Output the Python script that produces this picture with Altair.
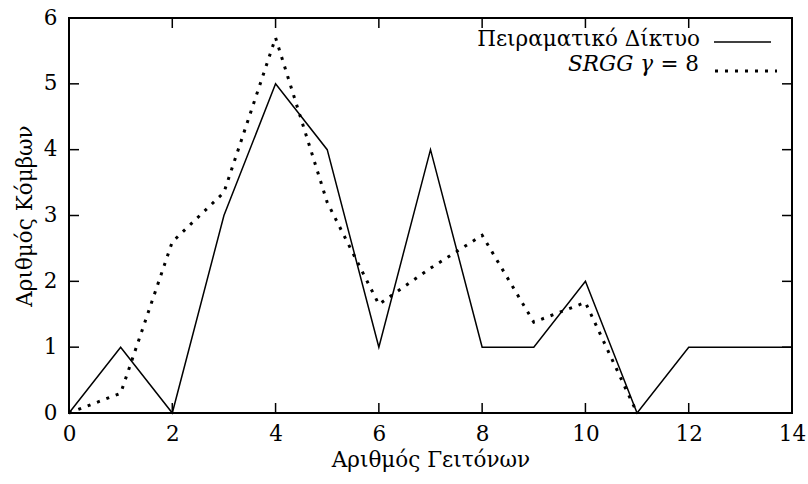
import altair as alt
import pandas as pd

# Data
x_exp = [0, 1, 2, 3, 4, 5, 6, 7, 8, 9, 10, 11, 12, 13, 14]
y_exp = [0, 1, 0, 3, 5, 4, 1, 4, 1, 1, 2, 0, 1, 1, 1]
x_srgg = [0, 1, 2, 3, 4, 5, 6, 7, 8, 9, 10, 11]
y_srgg = [0, 0.3, 2.6, 3.35, 5.7, 3.2, 1.65, 2.2, 2.7, 1.38, 1.68, 0]
x_ticks = [0, 2, 4, 6, 8, 10, 12, 14]
y_ticks = [0, 1, 2, 3, 4, 5, 6]
legend_labels = ["Πειραματικό Δίκτυο", "SRGG γ", "= 8"]
x_title = "Αριθμός Γειτόνων"
y_title = "Αριθμός Κόμβων"

FONT = "DejaVu Serif"
FS = 21.5
W, H = 723, 395

df_exp = pd.DataFrame({"x": x_exp, "y": y_exp})
df_srgg = pd.DataFrame({"x": x_srgg, "y": y_srgg})
df_xt = pd.DataFrame({"t": x_ticks})
df_yt = pd.DataFrame({"t": y_ticks})

xs = alt.Scale(domain=[0, 14], nice=False, zero=False)
ys = alt.Scale(domain=[0, 6], nice=False, zero=False)

xaxis = alt.Axis(values=x_ticks, format="d", title=x_title, grid=False, domain=False, ticks=False,
                 labelPadding=10, labelFontSize=FS, titleFontSize=FS, labelFont=FONT,
                 titleFont=FONT, labelColor="black", titleColor="black",
                 titleFontWeight="normal", titlePadding=5, labelFlush=False)
yaxis = alt.Axis(values=y_ticks, format="d", title=y_title, grid=False, domain=False, ticks=False,
                 labelPadding=12, labelFontSize=FS, titleFontSize=FS, labelFont=FONT,
                 titleFont=FONT, labelColor="black", titleColor="black",
                 titleFontWeight="normal", titlePadding=7, labelFlush=False)

exp_line = alt.Chart(df_exp).mark_line(color="black", strokeWidth=1.5).encode(
    x=alt.X("x:Q", scale=xs, axis=xaxis),
    y=alt.Y("y:Q", scale=ys, axis=yaxis),
)
srgg_line = alt.Chart(df_srgg).mark_line(
    color="black", strokeWidth=3, strokeDash=[3, 7], strokeCap="butt"
).encode(x=alt.X("x:Q", scale=xs), y=alt.Y("y:Q", scale=ys))

tick_style = dict(color="black", strokeWidth=1.5)
bt = alt.Chart(df_xt).mark_rule(**tick_style).encode(
    x=alt.X("t:Q", scale=xs), y=alt.value(H), y2=alt.value(H - 10))
tt = alt.Chart(df_xt).mark_rule(**tick_style).encode(
    x=alt.X("t:Q", scale=xs), y=alt.value(0), y2=alt.value(10))
lt = alt.Chart(df_yt).mark_rule(**tick_style).encode(
    y=alt.Y("t:Q", scale=ys), x=alt.value(0), x2=alt.value(10))
rt = alt.Chart(df_yt).mark_rule(**tick_style).encode(
    y=alt.Y("t:Q", scale=ys), x=alt.value(W), x2=alt.value(W - 10))

# Legend
leg1 = pd.DataFrame({"label": [legend_labels[0]]})
leg2a = pd.DataFrame({"label": [legend_labels[1]]})
leg2b = pd.DataFrame({"label": [legend_labels[2]]})
txt1 = alt.Chart(leg1).mark_text(align="right", baseline="alphabetic", font=FONT,
                                 fontSize=FS, color="black").encode(
    text="label:N", x=alt.value(631), y=alt.value(28))
txt2a = alt.Chart(leg2a).mark_text(align="right", baseline="alphabetic", font=FONT,
                                   fontSize=FS, fontStyle="italic", color="black").encode(
    text="label:N", x=alt.value(584), y=alt.value(53))
txt2b = alt.Chart(leg2b).mark_text(align="right", baseline="alphabetic", font=FONT,
                                   fontSize=FS, color="black").encode(
    text="label:N", x=alt.value(630), y=alt.value(53))
sample1 = alt.Chart(leg1).mark_rule(color="black", strokeWidth=1.5).encode(
    x=alt.value(645), x2=alt.value(702), y=alt.value(24))
sample2 = alt.Chart(leg2a).mark_rule(color="black", strokeWidth=3, strokeDash=[3, 7],
                                     strokeCap="butt").encode(
    x=alt.value(646), x2=alt.value(708), y=alt.value(53))

chart = alt.layer(
    exp_line, srgg_line, bt, tt, lt, rt, txt1, txt2a, txt2b, sample1, sample2
).properties(
    width=W, height=H,
    autosize=alt.AutoSizeParams(type="none"),
    padding={"left": 69, "top": 18, "right": 16, "bottom": 71},
    background="white",
).configure_view(stroke="black", strokeWidth=2)

chart.save("out.html", embed_options={"renderer": "svg", "actions": False})
